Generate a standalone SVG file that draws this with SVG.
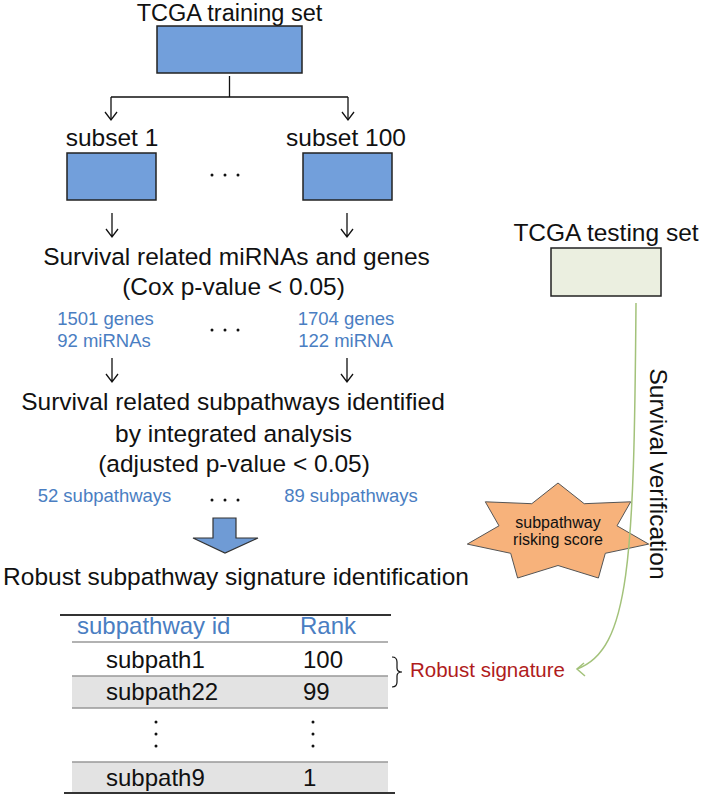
<svg xmlns="http://www.w3.org/2000/svg" width="701" height="796" viewBox="0 0 701 796">
<style>
.t{font-family:"Liberation Sans",Arial,sans-serif;font-size:24.5px;fill:#111;text-anchor:middle}
.b{font-family:"Liberation Sans",Arial,sans-serif;font-size:18.5px;fill:#4a7ec2;text-anchor:middle}
.tb{font-family:"Liberation Sans",Arial,sans-serif;font-size:24px;fill:#111}
.th{font-family:"Liberation Sans",Arial,sans-serif;font-size:24px;fill:#4a7ec2}
.box{fill:#729fdb;stroke:#222;stroke-width:1.5}
.ln{fill:none;stroke:#111;stroke-width:1.3}
.dot{fill:#111}
</style>
<rect width="701" height="796" fill="#fff"/>

<g id="training">
<text class="t" x="229.5" y="21" style="font-size:23.5px">TCGA training set</text>
<rect class="box" x="157" y="26" width="145" height="47"/>
</g>
<g id="subset1">
<text class="t" x="112" y="146">subset 1</text>
<rect class="box" x="67" y="153" width="89" height="47"/>
</g>
<g id="subset100">
<text class="t" x="346" y="146">subset 100</text>
<rect class="box" x="303" y="153" width="89" height="47"/>
</g>
<g id="dots1">
<circle class="dot" cx="212" cy="175" r="1.5"/><circle class="dot" cx="225" cy="175" r="1.5"/><circle class="dot" cx="238" cy="175" r="1.5"/>
</g>
<g id="survival-mirna">
<text class="t" x="236.5" y="265">Survival related miRNAs and genes</text>
<text class="t" x="233.5" y="295">(Cox p-value &lt; 0.05)</text>
</g>
<g id="counts1">
<text class="b" x="105.5" y="325">1501 genes</text>
<text class="b" x="104" y="347">92 miRNAs</text>
</g>
<g id="counts100">
<text class="b" x="346" y="325">1704 genes</text>
<text class="b" x="345.5" y="347">122 miRNA</text>
</g>
<g id="dots2">
<circle class="dot" cx="212" cy="330" r="1.5"/><circle class="dot" cx="225" cy="330" r="1.5"/><circle class="dot" cx="238" cy="330" r="1.5"/>
</g>
<g id="survival-subpathways">
<text class="t" x="233" y="410">Survival related subpathways identified</text>
<text class="t" x="233.5" y="442">by integrated analysis</text>
<text class="t" x="234" y="472">(adjusted p-value &lt; 0.05)</text>
</g>
<g id="subcounts">
<text class="b" x="104.5" y="502">52 subpathways</text>
<text class="b" x="351" y="502">89 subpathways</text>
<circle class="dot" cx="212" cy="500" r="1.5"/><circle class="dot" cx="225" cy="500" r="1.5"/><circle class="dot" cx="238" cy="500" r="1.5"/>
</g>
<g id="robust-title">
<text class="t" x="236" y="585">Robust subpathway signature identification</text>
</g>

<g id="testing">
<text class="t" x="606" y="241">TCGA testing set</text>
<rect x="551" y="248" width="110" height="48" fill="#ebefe0" stroke="#222" stroke-width="1.5"/>
</g>

<g id="star">
<polygon points="558,483 584.2,503.7 630.7,501.8 617,525.8 648.7,544.1 605.3,553.3 598.4,578 558,565.5 517.6,578 510.7,553.3 467.3,544.1 499,525.8 485.3,501.8 531.8,503.7" fill="#f7b27b" stroke="#555" stroke-width="1"/>
<text x="558" y="528" font-family="Liberation Sans,Arial,sans-serif" font-size="16" fill="#111" text-anchor="middle">subpathway</text>
<text x="558" y="545" font-family="Liberation Sans,Arial,sans-serif" font-size="16" fill="#111" text-anchor="middle">risking score</text>
</g>

<g id="table">
<rect x="72" y="676" width="316" height="32" fill="#e3e3e3"/>
<rect x="72" y="762" width="316" height="31" fill="#e3e3e3"/>
<line x1="60" y1="615" x2="391" y2="615" stroke="#333" stroke-width="2"/>
<line x1="72" y1="642" x2="388" y2="642" stroke="#999" stroke-width="1.5"/>
<line x1="72" y1="676" x2="388" y2="676" stroke="#999" stroke-width="1.5"/>
<line x1="72" y1="708" x2="388" y2="708" stroke="#999" stroke-width="1.5"/>
<line x1="72" y1="762" x2="388" y2="762" stroke="#999" stroke-width="1.5"/>
<line x1="64" y1="793" x2="395" y2="793" stroke="#333" stroke-width="2"/>
<text class="th" x="77" y="634">subpathway id</text>
<text class="th" x="300" y="634">Rank</text>
<text class="tb" x="106" y="668">subpath1</text>
<text class="tb" x="303" y="668">100</text>
<text class="tb" x="106" y="700">subpath22</text>
<text class="tb" x="303" y="700">99</text>
<circle class="dot" cx="156" cy="722" r="1.5"/><circle class="dot" cx="156" cy="734" r="1.5"/><circle class="dot" cx="156" cy="746" r="1.5"/>
<circle class="dot" cx="313" cy="722" r="1.5"/><circle class="dot" cx="313" cy="734" r="1.5"/><circle class="dot" cx="313" cy="746" r="1.5"/>
<text class="tb" x="106" y="786">subpath9</text>
<text class="tb" x="303" y="786">1</text>
</g>

<g id="signature">
<path d="M392,657 Q397,657 397,662 L397,668 Q397,672 402,672 Q397,672 397,676 L397,682 Q397,687 392,687" fill="none" stroke="#111" stroke-width="1.2"/>
<text x="410" y="677" font-family="Liberation Sans,Arial,sans-serif" font-size="20.5" fill="#b01c1c">Robust signature</text>
</g>

<g id="connectors">
<path class="ln" d="M229.5,76 V97 M111,97 H348 M111,97 V120 M348,97 V120"/>
<path class="ln" d="M105,112 L111,120 L117,112 M342,112 L348,120 L354,112"/>
<path class="ln" d="M112,213 V237 M106,229 L112,237 L118,229 M347,213 V237 M341,229 L347,237 L353,229"/>
<path class="ln" d="M112,358 V382 M106,374 L112,382 L118,374 M347,358 V382 M341,374 L347,382 L353,374"/>
<polygon points="213,518 236,518 236,538 258,538 225,553 193,538 213,538" fill="#6f9bd5" stroke="#333" stroke-width="1.2"/>
<path d="M636,303 C634,560 630,650 577,669" fill="none" stroke="#a3c27a" stroke-width="1.5"/>
<path d="M584,663 L577,669 L585,676" fill="none" stroke="#a3c27a" stroke-width="1.5"/>
<text transform="translate(650,474) rotate(90)" font-family="Liberation Sans,Arial,sans-serif" font-size="24.5" fill="#111" text-anchor="middle">Survival verification</text>
</g>
</svg>
